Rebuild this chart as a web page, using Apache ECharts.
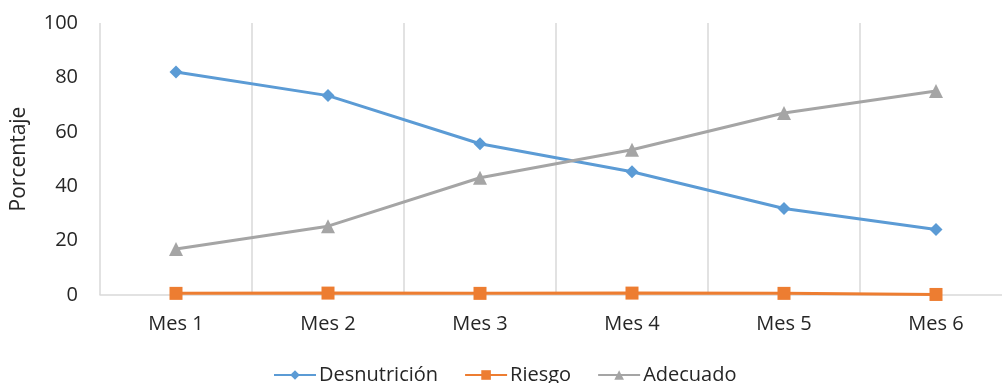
<!DOCTYPE html>
<html>
<head>
<meta charset="utf-8">
<script src="https://cdn.jsdelivr.net/npm/echarts@6/dist/echarts.min.js"></script>
<style>
  html, body { margin: 0; padding: 0; background: #fff; overflow: hidden; }
  /* the plot runs a little past the right edge of the window */
  #chart { width: 1020px; height: 383px; }
</style>
</head>
<body>
<div id="chart"></div>
<script>
// Monthly nutritional status shares (%)
const meses = ['Mes 1', 'Mes 2', 'Mes 3', 'Mes 4', 'Mes 5', 'Mes 6'];
const desnutricion = [82.0, 73.3, 55.6, 45.3, 31.8, 24.1];
const riesgo = [0.6, 0.7, 0.6, 0.7, 0.6, 0.2];
const adecuado = [16.9, 25.3, 43.1, 53.4, 66.9, 75.0];
const yTicks = [0, 20, 40, 60, 80, 100];

const font = 'Open Sans, Noto Sans, sans-serif';
const textColor = '#262626';
const chart = echarts.init(document.getElementById('chart'), null, { renderer: 'canvas' });

function serie(name, data, color, symbol, size) {
  return {
    name, type: 'line', data,
    symbol, symbolSize: size,
    lineStyle: { color, width: 3 },
    itemStyle: { color },
    emphasis: { disabled: true },
    animation: false
  };
}

chart.setOption({
  animation: false,
  grid: { left: 100, width: 912, top: 23, height: 272 },
  legend: {
    bottom: -7, left: 268,
    itemWidth: 42, itemHeight: 12, itemGap: 26,
    textStyle: { fontFamily: font, fontSize: 20, color: textColor, padding: [0, 0, 0, -2] },
    data: [
      { name: 'Desnutrición' },
      { name: 'Riesgo' },
      { name: 'Adecuado' }
    ]
  },
  xAxis: {
    type: 'category',
    data: meses,
    boundaryGap: true,
    axisLine: { show: true, lineStyle: { color: '#d9d9d9', width: 1.5 } },
    axisTick: { show: false },
    splitLine: { show: true, lineStyle: { color: '#d9d9d9', width: 1.5 } },
    axisLabel: { fontFamily: font, fontSize: 20, color: textColor, margin: 19 }
  },
  yAxis: {
    type: 'value',
    min: yTicks[0], max: yTicks[yTicks.length - 1], interval: 20,
    name: 'Porcentaje',
    nameLocation: 'middle',
    nameGap: 70,
    nameTextStyle: { fontFamily: font, fontSize: 21, color: textColor },
    axisLine: { show: false },
    axisTick: { show: false },
    splitLine: { show: false },
    axisLabel: { fontFamily: font, fontSize: 20, color: textColor, margin: 22 }
  },
  series: [
    serie('Desnutrición', desnutricion, '#5B9BD5', 'diamond', 13),
    serie('Riesgo', riesgo, '#ED7D31', 'rect', 13),
    serie('Adecuado', adecuado, '#A5A5A5', 'triangle', 14)
  ]
});
</script>
</body>
</html>
